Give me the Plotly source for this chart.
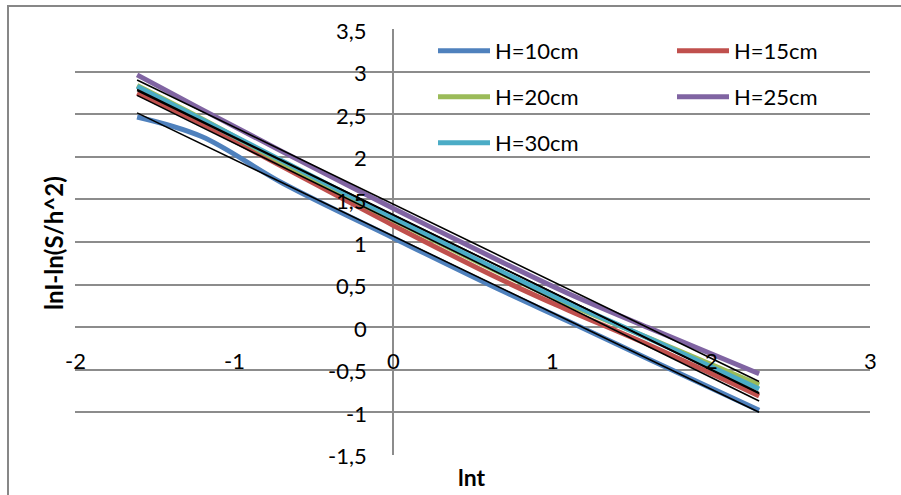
import numpy as np
import plotly.graph_objects as go

# ---------------- data ----------------
t_values = [0.2, 0.3, 0.5, 1, 2, 3, 5, 10]
series_names = ["H=10cm", "H=15cm", "H=20cm", "H=25cm", "H=30cm"]
h10 = [2.47, 2.24, 1.69, 1.05, 0.42, 0.07, -0.38, -0.98]
h15 = [2.75, 2.39, 1.884, 1.198, 0.546, 0.201, -0.211, -0.81]
h20 = [2.84, 2.45, 1.93, 1.26, 0.62, 0.27, -0.13, -0.68]
h25 = [2.966, 2.56, 2.06, 1.397, 0.757, 0.398, -0.01, -0.55]
h30 = [2.83, 2.44, 1.951, 1.287, 0.642, 0.29, -0.133, -0.73]
y_ticks = [-1.5, -1, -0.5, 0, 0.5, 1, 1.5, 2, 2.5, 3, 3.5]
y_tick_labels = ["-1,5", "-1", "-0,5", "0", "0,5", "1", "1,5", "2", "2,5", "3", "3,5"]
x_ticks = [-2, -1, 0, 1, 2, 3]
x_tick_labels = ["-2", "-1", "0", "1", "2", "3"]

series_values = [h10, h15, h20, h25, h30]
colors = ["#4F81BD", "#C0504D", "#9BBB59", "#8064A2", "#4BACC6"]
lnt = np.log(t_values)

FONT = "Lato"
W, H = 901, 495
ML, MR, MT, MB = 75, 31, 29, 40
PW, PH = W - ML - MR, H - MT - MB


def px_x(px):
    return (px - ML) / PW


def px_y(py):
    return (H - MB - py) / PH


fig = go.Figure()

for name, vals, col in zip(series_names, series_values, colors):
    fig.add_trace(go.Scatter(x=lnt, y=vals, mode="lines", name=name,
                             line=dict(color=col, width=5, shape="spline"),
                             showlegend=False))

# linear trendlines
for name, vals in zip(series_names, series_values):
    k, b = np.polyfit(lnt, vals, 1)
    xs = np.array([lnt.min(), lnt.max()])
    fig.add_trace(go.Scatter(x=xs, y=k * xs + b, mode="lines",
                             line=dict(color="black", width=1.6),
                             showlegend=False, hoverinfo="skip"))

annotations = []
# y tick labels next to the vertical axis
for v, lab in zip(y_ticks, y_tick_labels):
    annotations.append(dict(x=0, y=v, xref="x", yref="y", text=lab, showarrow=False,
                            xanchor="right", yanchor="middle", xshift=-24, yshift=-1,
                            font=dict(family=FONT, size=22, color="black")))
# x tick labels below the horizontal axis
for v, lab in zip(x_ticks, x_tick_labels):
    annotations.append(dict(x=v, y=0, xref="x", yref="y", text=lab, showarrow=False,
                            xanchor="center", yanchor="middle", yshift=-33,
                            font=dict(family=FONT, size=22, color="black")))

# axis titles
annotations.append(dict(x=px_x(54), y=px_y(243), xref="paper", yref="paper",
                        text="<b>lnI-ln(S/h^2)</b>", showarrow=False, textangle=-90,
                        xanchor="center", yanchor="middle",
                        font=dict(family=FONT, size=24, color="black")))
annotations.append(dict(x=px_x(472), y=px_y(477), xref="paper", yref="paper",
                        text="<b>lnt</b>", showarrow=False,
                        xanchor="center", yanchor="middle",
                        font=dict(family=FONT, size=23, color="black")))

shapes = []
# legend (two columns, three rows)
leg_cols = [438, 677]
leg_rows = [50.7, 96.7, 142.7]
for i, (name, col) in enumerate(zip(series_names, colors)):
    cx = leg_cols[i % 2]
    ry = leg_rows[i // 2]
    shapes.append(dict(type="line", xref="paper", yref="paper",
                       x0=px_x(cx), x1=px_x(cx + 52), y0=px_y(ry), y1=px_y(ry),
                       line=dict(color=col, width=5)))
    annotations.append(dict(x=px_x(cx + 55), y=px_y(ry), xref="paper", yref="paper",
                            text=name, showarrow=False, xanchor="left", yanchor="middle",
                            font=dict(family=FONT, size=22, color="black")))

# outer chart border
shapes.append(dict(type="rect", xref="paper", yref="paper",
                   x0=px_x(8), x1=px_x(912), y0=px_y(6), y1=px_y(510),
                   line=dict(color="#878787", width=2), fillcolor="rgba(0,0,0,0)",
                   layer="above"))

fig.update_layout(
    width=W, height=H,
    margin=dict(l=ML, r=MR, t=MT, b=MB),
    paper_bgcolor="white", plot_bgcolor="white",
    showlegend=False,
    xaxis=dict(range=[-2, 3], showgrid=False, zeroline=True, zerolinecolor="#8c8c8c",
               zerolinewidth=1.8, showticklabels=False, ticks="", showline=False,
               fixedrange=True),
    yaxis=dict(range=[-1.505, 3.505], dtick=0.5, tick0=0, showgrid=True,
               gridcolor="#8c8c8c", gridwidth=1.8, zeroline=True,
               zerolinecolor="#8c8c8c", zerolinewidth=1.8,
               showticklabels=False, ticks="", showline=False, fixedrange=True),
    annotations=annotations,
    shapes=shapes,
    font=dict(family=FONT),
)

fig.write_html("out.html")
